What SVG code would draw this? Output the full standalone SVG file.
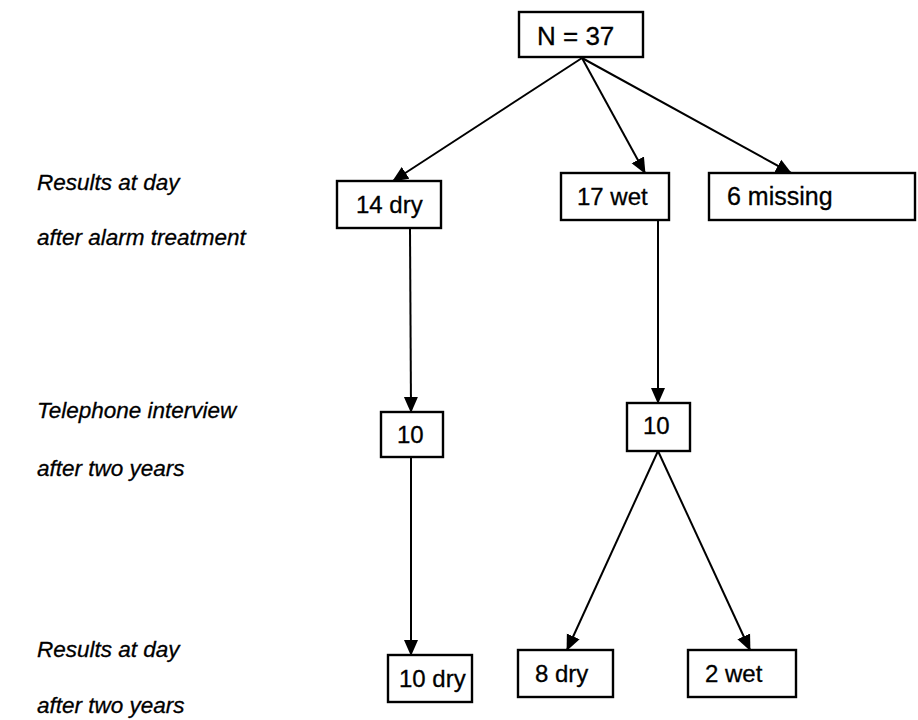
<svg xmlns="http://www.w3.org/2000/svg" width="918" height="720" viewBox="0 0 918 720">
<defs>
<marker id="ah" markerWidth="16" markerHeight="16" refX="15" refY="8" orient="auto" markerUnits="userSpaceOnUse" viewBox="0 0 16 16">
<path d="M0,1 L16,8 L0,15 Z" fill="#000"/>
</marker>
<style>
.box{fill:#fff;stroke:#000;stroke-width:2.4}
.t{font-family:"Liberation Sans",Arial,sans-serif;font-size:24px;fill:#000;stroke:#000;stroke-width:0.3}
.lab{font-family:"Liberation Sans",Arial,sans-serif;font-size:22.5px;font-style:italic;fill:#000;stroke:#000;stroke-width:0.3}
.c{stroke:#000;stroke-width:2;fill:none;marker-end:url(#ah)}
</style>
</defs>
<rect width="918" height="720" fill="#fff"/>
<g id="labels">
<text class="lab" x="37" y="190">Results at day</text>
<text class="lab" x="37" y="245">after alarm treatment</text>
<text class="lab" x="37" y="418">Telephone interview</text>
<text class="lab" x="37" y="476">after two years</text>
<text class="lab" x="37" y="657">Results at day</text>
<text class="lab" x="37" y="713">after two years</text>
</g>
<g id="connectors">
<line class="c" x1="582" y1="58" x2="393" y2="181"/>
<line class="c" x1="582" y1="58" x2="645" y2="173"/>
<line class="c" x1="582" y1="58" x2="791" y2="173"/>
<line class="c" x1="410" y1="228" x2="411" y2="412"/>
<line class="c" x1="658" y1="221" x2="658" y2="403"/>
<line class="c" x1="411" y1="457" x2="411" y2="655"/>
<line class="c" x1="658" y1="451" x2="567" y2="650"/>
<line class="c" x1="658" y1="451" x2="750" y2="650"/>
</g>
<g id="n37"><rect class="box" x="519" y="12" width="124" height="45"/><text class="t" x="537" y="45" style="font-size:26px">N = 37</text></g>
<g id="dry14"><rect class="box" x="337" y="181" width="104" height="47"/><text class="t" x="356" y="213">14 dry</text></g>
<g id="wet17"><rect class="box" x="561" y="173" width="108" height="47"/><text class="t" x="577" y="205">17 wet</text></g>
<g id="missing6"><rect class="box" x="709" y="173" width="206" height="47"/><text class="t" x="727" y="205" style="font-size:25px">6 missing</text></g>
<g id="ten1"><rect class="box" x="381" y="412" width="62" height="45"/><text class="t" x="397" y="443">10</text></g>
<g id="ten2"><rect class="box" x="627" y="403" width="63" height="48"/><text class="t" x="643" y="434">10</text></g>
<g id="dry10"><rect class="box" x="388" y="655" width="84" height="47"/><text class="t" x="399" y="687">10 dry</text></g>
<g id="dry8"><rect class="box" x="518" y="650" width="95" height="47"/><text class="t" x="535" y="682">8 dry</text></g>
<g id="wet2"><rect class="box" x="688" y="650" width="108" height="47"/><text class="t" x="705" y="682">2 wet</text></g>
</svg>
